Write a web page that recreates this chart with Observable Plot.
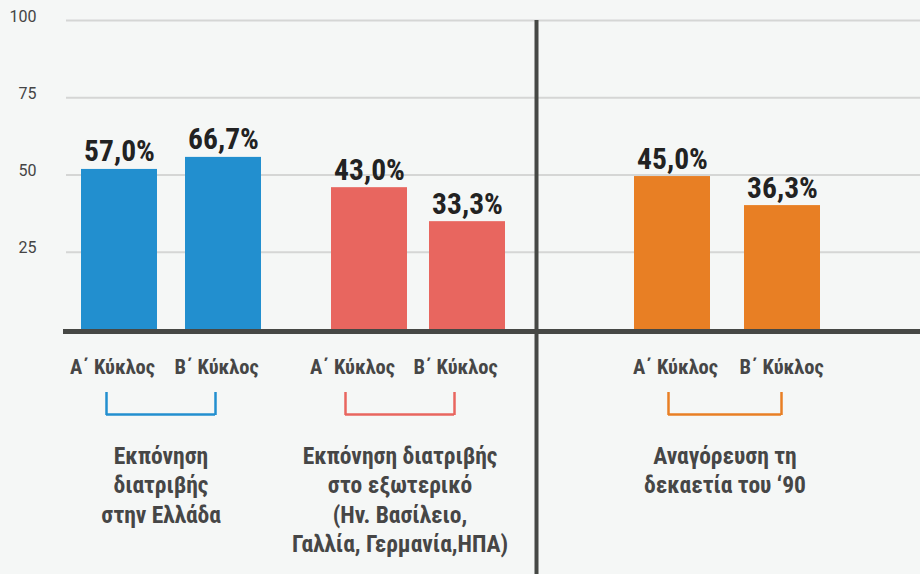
<!DOCTYPE html>
<html><head><meta charset="utf-8">
<script src="https://cdn.jsdelivr.net/npm/d3@7"></script>
<script src="https://cdn.jsdelivr.net/npm/@observablehq/plot@0.6"></script>
<style>
html,body{margin:0;padding:0;background:#f5f7f6;}
#chart svg{display:block;}
</style></head><body><div id="chart"></div>
<script>
// ---- data ----
const groupTitles = [
  "Εκπόνηση\nδιατριβής\nστην Ελλάδα",
  "Εκπόνηση διατριβής\nστο εξωτερικό\n(Ην. Βασίλειο,\nΓαλλία, Γερμανία,ΗΠΑ)",
  "Αναγόρευση τη\nδεκαετία του ‘90"
];
const cycles = ["Α΄ Κύκλος", "Β΄ Κύκλος"];
const barValues = [[51.8, 55.7], [45.9, 34.9], [49.5, 40.1]];
const valueLabels = [["57,0%", "66,7%"], ["43,0%", "33,3%"], ["45,0%", "36,3%"]];
const groupColors = ["#228fcf", "#e8665f", "#e87f24"];
const yTicks = [25, 50, 75, 100];

// ---- layout (track units along the x scale) ----
const barX = [[119, 223], [369, 467], [672, 782]];
const labelX = [[112, 216], [352, 455], [675, 781]];
const bracketX = [[106, 215], [345, 454], [668, 781]];
const separatorX = 536;
const barHalf = 38;

const rows = [];
groupTitles.forEach((g, gi) => cycles.forEach((c, ci) => rows.push({
  group: gi, cycle: c, value: barValues[gi][ci], label: valueLabels[gi][ci],
  color: groupColors[gi], bx: barX[gi][ci], lx: labelX[gi][ci]
})));
const brackets = groupTitles.map((t, gi) => ({
  title: t, color: groupColors[gi], x1: bracketX[gi][0], x2: bracketX[gi][1],
  tx: (bracketX[gi][0] + bracketX[gi][1]) / 2
}));
const bracketEnds = brackets.flatMap(b => [{x: b.x1, color: b.color}, {x: b.x2, color: b.color}]);

const COND = "'Roboto Condensed','Liberation Sans Narrow','DejaVu Sans Condensed',sans-serif";
const INK = "#464646";

const chart = Plot.plot({
  width: 920, height: 574,
  marginTop: 20, marginBottom: 245, marginLeft: 63, marginRight: 0,
  style: {background: "#f5f7f6", fontFamily: COND, overflow: "visible"},
  x: {type: "linear", domain: [0, 920], range: [0, 920], axis: null},
  y: {domain: [0, 100], axis: null},
  color: {type: "identity"},
  marks: [
    Plot.ruleY(yTicks, {stroke: "#d5d6d5", strokeWidth: 2, insetLeft: 3}),
    Plot.text(yTicks, {y: d => d, text: d => String(d), frameAnchor: "left", textAnchor: "end", dx: -27, dy: 1, lineAnchor: "bottom", fontSize: 16, fill: "#444", fontFamily: "Roboto"}),
    Plot.rectY(rows, {x1: d => d.bx - barHalf, x2: d => d.bx + barHalf, y: "value", fill: "color"}),
    Plot.ruleY([0], {stroke: "#464845", strokeWidth: 5, dy: 2}),
    Plot.ruleX([separatorX], {x: d => d, y1: 100, y2: 0, insetBottom: -250, stroke: "#464845", strokeWidth: 4}),
    Plot.text(rows, {x: "bx", y: "value", text: "label", dy: -8, lineAnchor: "bottom", fontSize: 29.5, fontWeight: "bold", fill: "#222"}),
    Plot.text(rows, {x: "lx", y: 0, text: "cycle", dy: 38, fontSize: 20.5, fontWeight: "bold", fill: INK}),
    Plot.ruleY(brackets, {x1: "x1", x2: "x2", y: 0, dy: 85, stroke: "color", strokeWidth: 2.5}),
    Plot.ruleX(bracketEnds, {x: "x", y1: 0, y2: 0, insetTop: 63, insetBottom: -86, stroke: "color", strokeWidth: 2.5}),
    Plot.text(brackets, {x: "tx", y: 0, text: "title", lineAnchor: "top", dy: 113, lineHeight: 1.26, fontSize: 23.5, fontWeight: "bold", fill: INK})
  ]
});
document.getElementById("chart").appendChild(chart);
</script>
</body></html>
